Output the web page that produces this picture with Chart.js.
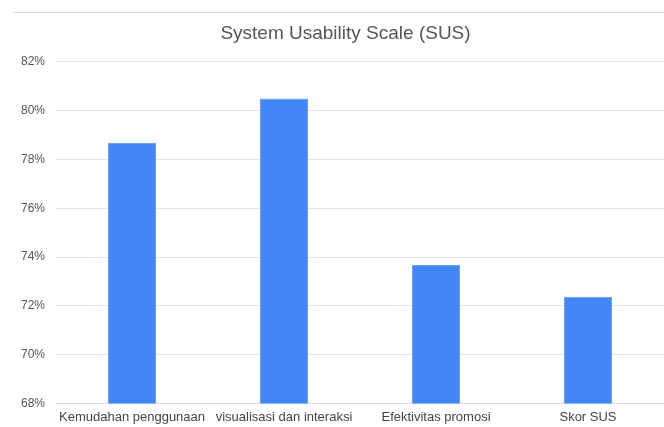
<!DOCTYPE html>
<html lang="id">
<head>
    <meta charset="UTF-8">
    <title>System Usability Scale (SUS)</title>
    <script src="https://cdn.jsdelivr.net/npm/chart.js"></script>
    <style>
        body { margin: 0; background: #fff; }
        #wrap { position: relative; width: 664px; height: 427px; }
        #topline { position: absolute; left: 12px; right: 0; top: 12px; border-top: 1px solid #dadada; }
    </style>
</head>
<body>
<div id="wrap">
    <div id="topline"></div>
    <canvas id="susChart" width="664" height="427"></canvas>
</div>
<script>
    const labels = ['Kemudahan penggunaan', 'visualisasi dan interaksi', 'Efektivitas promosi', 'Skor SUS'];
    const scores = [78.67, 80.5, 73.67, 72.37];
    const yMin = 68, yMax = 82, yStep = 2;

    // geser judul sedikit ke kanan seperti di gambar asli
    const shiftTitle = {
        id: 'shiftTitle',
        afterLayout(chart) {
            if (chart.titleBlock) {
                chart.titleBlock.left += 17;
            }
        }
    };

    const ctx = document.getElementById('susChart').getContext('2d');
    const susChart = new Chart(ctx, {
        type: 'bar',
        data: {
            labels: labels,
            datasets: [{
                label: 'SUS',
                data: scores,
                backgroundColor: '#4285f4',
                borderColor: '#6a9ff6',
                borderWidth: 1,
                barPercentage: 1,
                categoryPercentage: 0.316
            }]
        },
        options: {
            responsive: false,
            animation: false,
            layout: { padding: { left: 10, right: 0, top: 0, bottom: -4 } },
            plugins: {
                legend: { display: false },
                tooltip: { enabled: false },
                title: {
                    display: true,
                    text: 'System Usability Scale (SUS)',
                    color: '#555555',
                    font: { family: 'Liberation Sans', size: 19, weight: 'normal' },
                    padding: { top: 22, bottom: 17 }
                }
            },
            scales: {
                x: {
                    grid: { display: false, drawTicks: false },
                    border: { color: '#dddddd' },
                    ticks: {
                        color: '#444444',
                        padding: 6,
                        maxRotation: 0,
                        autoSkip: false,
                        font: { family: 'Liberation Sans', size: 13 }
                    }
                },
                y: {
                    min: yMin,
                    max: yMax,
                    grid: { color: '#e3e3e3', drawTicks: false },
                    border: { display: false },
                    ticks: {
                        stepSize: yStep,
                        padding: 11,
                        color: '#555555',
                        font: { family: 'Liberation Sans', size: 12 },
                        callback: v => v + '%'
                    }
                }
            }
        },
        plugins: [shiftTitle]
    });
</script>
</body>
</html>
